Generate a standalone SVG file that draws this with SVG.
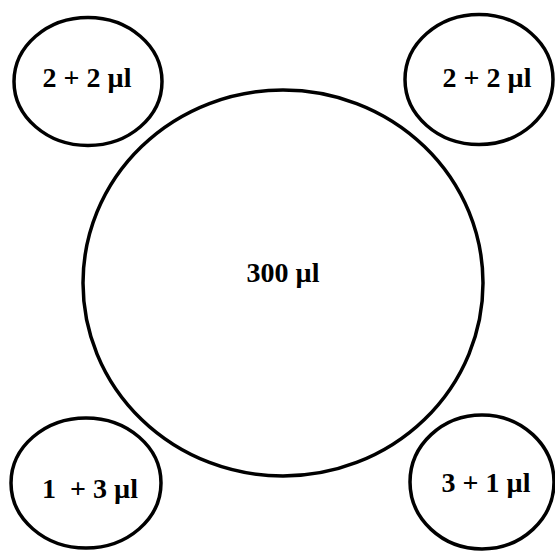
<svg xmlns="http://www.w3.org/2000/svg" width="555" height="551" viewBox="0 0 555 551">
<style>
.c{fill:none;stroke:#000;stroke-width:3.5}
.t{font-family:"Liberation Serif","Times New Roman",serif;font-weight:bold;font-size:28px;fill:#000;text-anchor:middle}
</style>
<rect width="555" height="551" fill="#fff"/>
<g id="center"><ellipse class="c" cx="283" cy="283" rx="200" ry="193"/><text class="t" x="283" y="282">300 µl</text></g>
<g id="tl"><ellipse class="c" cx="88" cy="81.5" rx="74" ry="64"/><text class="t" x="87" y="87">2 + 2 µl</text></g>
<g id="tr"><ellipse class="c" cx="479" cy="79.5" rx="74" ry="65"/><text class="t" x="487" y="87">2 + 2 µl</text></g>
<g id="bl"><ellipse class="c" cx="86" cy="483" rx="75" ry="65"/><text class="t" x="90" y="498" xml:space="preserve">1  + 3 µl</text></g>
<g id="br"><ellipse class="c" cx="482" cy="482" rx="72" ry="67"/><text class="t" x="486" y="492">3 + 1 µl</text></g>
<g id="connectors"/>
</svg>
